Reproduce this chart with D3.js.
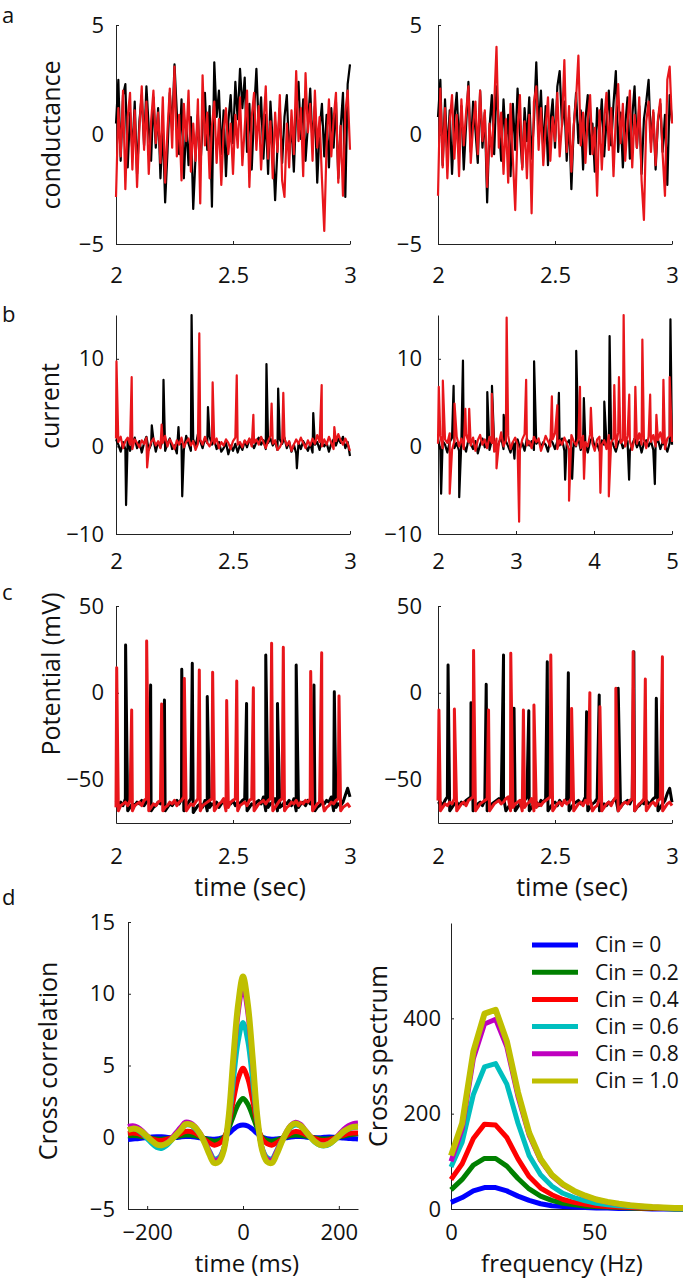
<!DOCTYPE html>
<html>
<head>
<meta charset="utf-8">
<script src="https://cdn.jsdelivr.net/npm/d3@7"></script>
<style>
  body { margin: 0; background: #fff; }
</style>
</head>
<body>
<script>
'use strict';

// ---- panel a: conductance, sampled every 10 ms from 2 to 3 s
const condBlackL = [0.5,2.5,-1.2,1.8,2.3,-1.5,1.0,-0.8,1.5,-1.8,
  0.6,1.8,-0.5,2.2,0.3,-1.2,1.7,-0.6,1.2,-2.0,
  0.4,-3.1,-0.8,1.9,0.2,3.2,1.0,-0.9,1.6,-2.0,
  0.5,-1.4,0.8,-3.4,-1.0,0.9,-1.6,0.4,1.9,-0.7,
  1.3,-3.3,3.3,0.8,2.0,-0.9,1.1,-1.9,0.6,1.8,
  -0.4,2.4,0.7,3.0,1.2,2.6,-0.8,1.4,-1.6,1.0,
  3.0,0.3,1.7,-1.1,0.9,-1.8,1.5,-0.4,-3.0,-0.6,
  1.2,-1.3,0.8,1.8,-0.9,0.5,-1.7,1.1,2.4,-0.2,
  1.6,-1.2,0.4,2.1,-0.5,1.3,-2.2,0.2,1.4,-1.0,
  0.9,-1.5,1.2,-0.6,1.5,-2.0,0.3,1.9,-2.85,2.3,
  3.2]
const condRedL = [-2.85,1.2,-1.0,2.0,-2.5,0.8,1.9,-1.6,1.1,-2.4,
  0.3,2.2,-0.7,1.5,-1.8,0.6,2.0,-0.4,1.0,-1.3,
  1.7,-2.2,0.2,2.1,-0.6,3.1,-1.0,0.9,-2.1,1.4,
  -0.3,2.0,-1.7,0.5,-1.2,1.6,-3.15,2.7,-0.5,1.0,
  -2.0,0.4,1.5,-1.3,0.7,-2.3,0.2,1.2,-0.9,0.5,
  -1.8,0.9,-0.6,1.7,-1.4,0.3,2.0,-2.4,0.8,1.9,
  -0.7,1.3,-1.6,0.4,2.2,-1.1,0.6,-2.0,1.0,-0.8,
  1.8,-2.1,-2.85,0.5,-1.5,1.1,-0.9,2.9,-0.3,1.2,
  -1.9,2.8,0.1,1.4,-1.2,2.0,-0.6,0.8,-2.0,-4.4,
  -0.5,1.6,-1.0,0.7,1.9,-2.2,0.4,-2.8,1.0,2.0,
  -0.7]
const condBlackR = [0.8,2.5,-1.4,1.6,-0.9,1.1,-1.8,0.7,1.9,-0.5,
  1.3,-1.6,0.4,2.4,-0.8,1.5,0.2,-1.3,2.0,-0.6,
  1.0,-3.1,0.3,1.8,-0.9,2.2,0.5,-1.2,1.6,-0.4,
  0.9,-1.9,1.4,-0.7,2.1,0.1,-1.5,1.2,-0.3,1.7,
  -1.1,0.6,3.3,0.2,2.0,-0.8,1.3,-1.4,0.5,1.6,
  -0.6,2.2,2.9,0.4,1.5,-1.2,0.8,-2.5,0.3,1.9,
  -0.4,1.1,-1.6,0.7,1.8,-0.9,0.5,-1.7,1.2,0.0,
  1.6,-1.0,0.6,2.0,-0.5,1.4,2.9,-0.8,1.0,-1.5,
  0.4,1.7,-1.1,0.8,2.2,-0.6,1.3,-1.8,0.7,1.5,
  2.5,-0.4,1.0,-1.6,0.6,1.4,-0.8,0.9,-2.3,1.8,
  0.6]
const condRedR = [-2.8,2.1,-1.5,1.2,-2.0,0.6,1.8,-1.1,0.9,-1.9,
  1.6,-0.5,1.0,2.2,-1.3,0.4,1.5,-0.9,2.0,-0.3,
  1.1,-2.4,0.5,-1.0,1.3,4.0,-0.6,1.0,-1.8,0.7,
  -2.2,1.4,-1.1,-3.45,0.2,1.8,-1.6,0.6,-2.0,0.9,
  -3.6,1.5,2.2,-0.7,1.2,-1.4,0.3,1.7,-1.2,0.8,
  -0.3,1.9,-1.0,0.5,3.4,-0.8,1.3,-1.7,0.4,1.6,
  3.6,-0.5,1.0,-1.3,0.7,1.8,-0.9,0.3,-2.8,1.1,
  -1.6,0.6,1.9,-0.7,1.2,-1.9,0.8,2.3,-0.4,1.4,
  -1.2,0.5,2.0,-1.5,0.9,-0.6,1.7,-2.1,-3.9,0.6,
  1.5,-0.8,1.1,-1.4,0.7,1.6,-0.9,-2.8,2.5,3.1,
  0.5]

// ---- panel b: current, baseline (10 ms left, 30 ms right) + spikes [time, value]
const curBaseBlackL = [0.8,0.2,-0.6,0.5,-0.3,0.9,-0.5,0.3,1.0,-0.2,
  0.6,-0.7,0.4,1.1,-0.4,0.2,0.8,-0.6,0.5,-0.1,
  0.7,-0.5,0.3,0.9,-0.3,0.1,-0.8,0.6,0.2,-0.4,
  1.2,0.3,-0.5,0.8,0.0,1.4,0.6,-0.2,0.9,0.4,
  1.1,0.2,0.7,-0.3,0.5,-0.6,-0.2,0.4,-0.9,0.1,
  -0.5,0.3,-0.7,0.2,-0.4,0.6,-0.1,0.8,0.3,-0.2,
  0.5,1.0,0.2,0.7,-0.3,0.4,0.9,0.1,0.6,-0.4,
  0.8,0.3,1.0,-0.2,0.5,-0.6,0.2,-0.8,0.4,-0.3,
  0.6,0.1,-0.5,0.3,-0.7,0.2,0.5,-0.4,0.7,0.0,
  0.4,-0.6,0.3,0.8,0.1,0.9,0.4,1.1,-0.2,0.5,
  -1.1]
const curBaseRedL = [0.9,0.5,1.1,-0.2,0.6,1.0,0.2,-0.3,0.8,0.4,
  -0.1,0.7,0.3,1.0,-0.4,0.5,0.9,0.1,0.6,-0.2,
  0.4,1.2,0.0,0.8,0.3,-0.3,0.7,0.2,1.0,-0.1,
  0.5,0.9,0.1,0.6,-0.4,0.3,0.8,0.2,1.1,0.4,
  0.0,0.7,0.3,0.9,-0.2,0.5,0.1,0.8,0.4,-0.3,
  0.6,1.0,0.2,0.5,-0.1,0.7,0.3,0.9,0.0,0.4,
  0.8,0.2,1.1,0.5,-0.2,0.6,1.2,0.3,0.7,-0.4,
  -0.1,0.5,0.9,0.1,0.6,-0.5,0.2,0.8,0.3,1.0,
  0.4,-0.2,0.7,0.1,0.9,0.3,1.3,0.5,0.0,0.8,
  0.2,1.1,0.4,-0.3,0.6,1.4,0.7,0.2,0.9,0.3,
  -0.5]
const curSpikesBlackL = [[2.043,-6.7],[2.153,2.4],[2.203,7.6],[2.267,2.2],[2.283,-5.7],
  [2.323,15],[2.393,4.5],[2.643,9.4],[2.693,6.6],[2.773,-2.5],[2.843,3.8]]
const curSpikesRedL = [[2.002,9.7],[2.067,7.9],[2.133,-2.4],[2.195,2.5],[2.356,12.9],
  [2.413,7.3],[2.516,8.1],[2.587,3.6],[2.665,4.9],[2.715,6.1],[2.879,7.0],[2.933,2.2]]

const curBaseBlackR = [0.9,-0.4,0.6,0.2,-0.7,0.5,1.0,-0.2,0.4,-0.5,
  0.7,0.1,-0.6,0.8,0.3,-0.3,0.6,-0.8,0.2,0.9,
  -0.1,0.5,-0.4,0.7,0.2,-0.6,0.4,1.0,-0.3,0.6,
  0.0,-0.7,0.5,0.3,0.8,-0.2,0.4,-0.5,0.9,0.1,
  0.6,-0.4,0.3,0.7,-0.1,0.5,0.2,-0.6,0.8,0.4,
  -0.3,0.6,0.1,0.9,-0.5,0.3,0.7,-0.2,0.5,0.0,
  0.8,-0.4,0.4,0.2,-0.7,0.6,1.0,-0.1,0.3,-0.5,
  0.7,0.2,0.5,-0.3,0.9,0.1,-0.6,0.4,0.8,-0.2,
  0.3,0.6,-0.5,0.2,0.9,-0.1,0.5,-0.7,0.4,0.7,
  0.0,0.6,-0.4,0.3,0.8,-0.3,0.5,0.1,-0.6,0.4,
  0.2]
const curBaseRedR = [0.3,1.2,-0.2,0.8,0.4,1.5,-0.4,0.6,1.1,0.0,
  0.9,-0.3,1.4,0.5,0.1,1.0,-0.5,0.7,1.3,0.2,
  0.8,-0.2,1.1,0.4,-0.6,0.9,0.3,1.6,0.0,0.7,
  1.2,-0.3,0.5,1.0,0.2,-0.4,0.8,1.4,0.1,0.6,
  -0.2,1.1,0.5,0.9,-0.5,0.3,1.2,0.6,0.0,0.8,
  1.5,-0.3,0.7,0.2,1.0,0.4,-0.4,1.3,0.6,0.1,
  0.9,-0.2,1.2,0.5,0.0,1.4,0.3,-0.5,0.8,1.1,
  0.2,0.7,-0.3,1.3,0.5,0.9,-0.1,1.6,0.4,0.7,
  0.0,1.2,0.6,-0.4,1.0,0.3,1.5,0.2,0.8,-0.2,
  1.1,0.5,1.3,0.0,0.7,1.6,0.4,-0.3,0.9,1.2,
  0.5]
const curSpikesBlackR = [[2.04,-5.4],[2.20,6.9],[2.272,-5.8],[2.32,9.8],[2.632,6.2],
  [2.692,6.9],[2.842,3.6],[2.98,-1.4],[3.232,9.7],[3.55,6.1],[3.63,-3.8],[3.72,-3.7],
  [3.772,10.9],[3.87,5.5],[4.132,5.1],[4.20,12.6],[4.45,-3.8],[4.78,-4.3],[4.98,14.5]]
const curSpikesRedR = [[2.01,6.8],[2.062,7.5],[2.15,-5.4],[2.212,4.9],[2.35,4.3],[2.40,4.3],
  [2.69,6.0],[2.75,-2.5],[2.88,14.7],[3.04,-8.6],[3.13,7.6],[3.46,5.7],[3.53,4.7],
  [3.68,-6.2],[3.82,6.8],[3.872,-3.7],[3.96,4.4],[4.082,-5.3],[4.19,-5.7],[4.26,7.0],
  [4.32,7.9],[4.38,15],[4.452,5.9],[4.53,6.8],[4.62,12.2],[4.72,5.9],[4.80,3.6],
  [4.89,7.6],[4.97,7.9]]

// ---- panel c: membrane potential, baseline every 10 ms + spike peaks [time, mV]
const potBaseBlackL = [-62,-64,-63,-65,-61,-68,-66,-64,-65,-63,
  -64,-62,-65,-63,-61,-68,-66,-65,-63,-64,
  -61,-68,-66,-64,-65,-63,-62,-64,-61,-68,
  -65,-63,-61,-69,-67,-65,-64,-66,-62,-68,
  -66,-64,-65,-63,-66,-64,-62,-65,-63,-64,
  -62,-65,-63,-64,-62,-61,-68,-66,-64,-65,
  -63,-62,-64,-60,-68,-66,-64,-63,-61,-68,
  -66,-65,-63,-64,-62,-65,-61,-68,-66,-64,
  -63,-65,-62,-64,-61,-68,-66,-65,-63,-64,
  -62,-63,-60,-68,-66,-64,-65,-63,-59,-55,
  -60]
const potBaseRedL = [-66,-68,-65,-64,-63,-65,-62,-68,-65,-64,
  -63,-65,-62,-61,-68,-66,-64,-65,-63,-62,
  -68,-66,-65,-63,-64,-62,-65,-63,-62,-60,
  -68,-66,-64,-65,-63,-61,-68,-65,-64,-63,
  -62,-61,-68,-66,-64,-63,-61,-68,-66,-63,
  -62,-61,-68,-65,-64,-63,-65,-62,-61,-68,
  -66,-64,-63,-62,-64,-62,-61,-68,-66,-64,
  -62,-61,-68,-66,-65,-63,-64,-62,-65,-63,
  -64,-62,-63,-61,-68,-66,-64,-63,-61,-68,
  -66,-65,-63,-64,-62,-61,-68,-66,-65,-64,
  -66]
const potSpikesBlackL = [[2.041,27.5],[2.148,4.5],[2.207,-4.1],[2.281,13.5],[2.326,17.0],
  [2.39,-2.2],[2.558,-6.1],[2.64,21.8],[2.69,-6.1],[2.77,16.0],[2.846,4.5],[2.933,0.6]]
const potSpikesRedL = [[2.003,14.5],[2.067,-9.9],[2.131,29.8],[2.195,-6.4],[2.292,8.3],
  [2.356,13.1],[2.413,11.8],[2.473,-4.5],[2.516,6.8],[2.587,2.9],[2.665,28.5],
  [2.715,26.2],[2.832,12.2],[2.879,23.1],[2.953,-1.9]]

const potBaseBlackR = [-64,-63,-65,-62,-60,-68,-66,-64,-63,-65,
  -63,-64,-62,-61,-60,-68,-66,-64,-63,-65,
  -62,-68,-66,-64,-63,-62,-61,-63,-60,-68,
  -66,-64,-61,-68,-66,-64,-63,-62,-60,-68,
  -66,-64,-63,-65,-62,-63,-61,-68,-66,-64,
  -63,-65,-62,-64,-63,-61,-68,-66,-64,-63,
  -62,-64,-63,-60,-68,-66,-64,-63,-61,-68,
  -66,-64,-65,-63,-64,-62,-61,-68,-66,-64,
  -63,-62,-64,-61,-68,-66,-65,-63,-64,-62,
  -64,-63,-61,-60,-68,-66,-64,-62,-58,-55,
  -63]
const potBaseRedR = [-62,-68,-66,-64,-65,-63,-64,-61,-68,-66,
  -64,-63,-65,-62,-61,-60,-68,-66,-64,-63,
  -62,-61,-68,-66,-64,-63,-62,-64,-63,-61,
  -60,-68,-66,-64,-63,-62,-68,-66,-64,-63,
  -61,-68,-66,-64,-65,-63,-62,-61,-60,-68,
  -66,-64,-63,-65,-62,-64,-63,-61,-68,-66,
  -64,-63,-65,-62,-64,-61,-68,-66,-65,-61,
  -68,-66,-64,-63,-65,-62,-60,-68,-66,-64,
  -63,-64,-62,-61,-68,-66,-64,-63,-61,-68,
  -66,-64,-63,-65,-62,-61,-68,-66,-64,-63,
  -65]
const potSpikesBlackR = [[2.043,16],[2.141,-5.7],[2.206,4.9],[2.28,21.8],[2.325,-8.9],
  [2.388,-10.3],[2.467,17.9],[2.557,11.6],[2.635,-10.9],[2.689,-1.3],[2.77,2.6],
  [2.837,23.7],[2.933,-3.2]]
const potSpikesRedR = [[2.004,-9.9],[2.07,-9.3],[2.152,24.3],[2.216,-9.9],[2.311,22.8],
  [2.365,-9.9],[2.41,-7.0],[2.482,21.8],[2.571,-9.0],[2.649,0.1],[2.692,-8.0],
  [2.76,2.6],[2.834,23.7],[2.886,8.0],[2.959,20.8]]

// ---- panel d
const cinLabels = ['Cin = 0', 'Cin = 0.2', 'Cin = 0.4', 'Cin = 0.6', 'Cin = 0.8', 'Cin = 1.0']
const cinColors = ['#0000ff', '#008000', '#ff0000', '#00bfbf', '#bf00bf', '#bfbf00']

const lagMs = d3.range(-240, 241, 10)
const xcorr = [
  [-0.15,-0.12,-0.1,-0.06,-0.02,0.02,0.04,0.03,0.0,-0.03,-0.02,0.02,0.05,0.05,0.02,-0.03,-0.08,-0.12,-0.14,-0.1,0.0,0.25,0.55,0.78,0.85,0.78,0.55,0.25,0.0,-0.1,-0.14,-0.12,-0.08,-0.03,0.02,0.05,0.05,0.02,-0.02,-0.04,-0.03,0.0,0.02,0.0,-0.03,-0.06,-0.08,-0.1,-0.12],
  [0.1,0.12,0.1,0.05,0.0,-0.08,-0.12,-0.14,-0.1,-0.04,0.03,0.1,0.15,0.15,0.1,0.03,-0.08,-0.2,-0.28,-0.22,0.0,0.6,1.5,2.3,2.7,2.3,1.5,0.6,0.0,-0.22,-0.28,-0.2,-0.08,0.03,0.12,0.15,0.13,0.08,0.02,-0.05,-0.1,-0.12,-0.1,-0.05,0.02,0.08,0.15,0.2,0.25],
  [0.25,0.3,0.25,0.12,0.0,-0.12,-0.2,-0.22,-0.15,-0.05,0.1,0.25,0.4,0.4,0.3,0.1,-0.15,-0.4,-0.55,-0.45,-0.1,0.9,2.6,4.1,4.8,4.1,2.6,0.9,-0.1,-0.45,-0.55,-0.4,-0.15,0.1,0.3,0.4,0.35,0.2,0.05,-0.1,-0.2,-0.22,-0.18,-0.08,0.05,0.15,0.25,0.3,0.3],
  [0.55,0.6,0.5,0.25,-0.1,-0.45,-0.72,-0.78,-0.6,-0.25,0.15,0.55,0.85,0.85,0.6,0.2,-0.35,-0.95,-1.5,-1.4,-0.75,1.0,4.0,6.7,8.0,6.7,4.0,1.0,-0.75,-1.4,-1.5,-0.95,-0.3,0.25,0.7,0.85,0.75,0.4,0.0,-0.35,-0.55,-0.6,-0.5,-0.25,0.05,0.35,0.55,0.68,0.7],
  [0.75,0.8,0.7,0.45,0.1,-0.25,-0.5,-0.55,-0.4,-0.1,0.3,0.7,1.05,1.0,0.75,0.3,-0.3,-1.0,-1.6,-1.5,-0.8,1.3,5.2,8.7,10.5,8.7,5.2,1.3,-0.8,-1.5,-1.6,-1.0,-0.3,0.35,0.85,1.05,0.9,0.5,0.1,-0.25,-0.48,-0.52,-0.4,-0.15,0.2,0.55,0.8,0.95,1.0],
  [0.5,0.6,0.55,0.35,0.05,-0.25,-0.5,-0.56,-0.45,-0.2,0.15,0.5,0.9,0.9,0.7,0.25,-0.4,-1.2,-1.8,-1.7,-0.9,1.4,5.6,9.3,11.2,9.3,5.6,1.4,-0.9,-1.7,-1.8,-1.2,-0.4,0.3,0.8,0.95,0.8,0.45,0.05,-0.3,-0.52,-0.56,-0.45,-0.2,0.1,0.4,0.6,0.72,0.75]
]

const freqHz = [0,3.9,7.8,11.7,15.6,19.5,23.4,27.3,31.3,35.2,39.1,43.0,46.9,50.8,54.7,58.6,62.5,66.4,70.3,74.2,78.1,82.0]
const xspec = [
  [14,24,38,45,45,38,27,18,11,7,5,4,3,2,2,1,1,1,0,0,0,0],
  [40,62,92,106,106,90,64,42,27,18,12,9,6,5,4,3,2,1,1,1,0,0],
  [62,95,148,178,176,150,105,68,44,30,20,14,10,7,5,4,3,2,2,1,1,1],
  [88,140,240,298,305,262,180,112,72,48,33,24,17,12,9,7,5,4,3,2,1,1],
  [100,168,315,388,398,340,236,155,102,70,50,37,27,20,14,10,8,6,4,3,2,2],
  [112,180,330,410,418,352,245,160,105,72,52,38,28,20,15,11,8,6,4,3,2,2]
]

const tLeft = d3.range(101).map(i => 2 + i / 100)
const tRight5 = d3.range(101).map(i => 2 + i * 0.03)

const FONT = "'Open Sans', 'Noto Sans', sans-serif"
const BLACK = '#000'
const RED = '#e8161b'
const LABEL_SIZE = 25

const svg = d3.select('body')
  .append('svg')
  .attr('width', 683)
  .attr('height', 1280)
  .style('background', '#fff')

const defs = svg.append('defs')

function styleAxis(g) {
  g.attr('font-family', FONT).attr('font-size', 22)
  g.select('.domain').attr('stroke', '#222')
  g.selectAll('.tick line').attr('stroke', '#222')
  g.selectAll('.tick text').attr('fill', '#111')
}

function makePanel(box, xDom, yDom, xTicks, yTicks, padX, padY) {
  let x = d3.scaleLinear().domain(xDom).range([box.x0, box.x1])
  let y = d3.scaleLinear().domain(yDom).range([box.y1, box.y0])
  let fmt = d3.format('')

  svg.append('g')
    .attr('transform', 'translate(0,' + box.y1 + ')')
    .call(d3.axisBottom(x).tickValues(xTicks).tickFormat(fmt)
      .tickSizeInner(-3).tickSizeOuter(0).tickPadding(padX))
    .call(styleAxis)

  svg.append('g')
    .attr('transform', 'translate(' + box.x0 + ',0)')
    .call(d3.axisLeft(y).tickValues(yTicks).tickFormat(fmt)
      .tickSizeInner(-3).tickSizeOuter(0).tickPadding(padY))
    .call(styleAxis)

  let id = 'clip' + Math.round(box.x0) + '_' + Math.round(box.y0)
  defs.append('clipPath').attr('id', id)
    .append('rect')
    .attr('x', box.x0 - 4).attr('y', box.y0 - 6)
    .attr('width', box.x1 - box.x0 + 8).attr('height', box.y1 - box.y0 + 10)

  return { x: x, y: y, clip: id }
}

function drawTrace(p, pts, color, width, curve) {
  let line = d3.line()
    .x(d => p.x(d[0]))
    .y(d => p.y(d[1]))
    .curve(curve || d3.curveLinear)
  svg.append('path')
    .datum(pts)
    .attr('clip-path', 'url(#' + p.clip + ')')
    .attr('d', line)
    .attr('fill', 'none')
    .attr('stroke', color)
    .attr('stroke-width', width)
    .attr('stroke-linejoin', 'round')
}

function zipTrace(times, vals) {
  return times.map((t, i) => [t, vals[i]])
}

function withSpikes(times, base, spikes) {
  let pts = zipTrace(times, base).concat(spikes)
  pts.sort((a, b) => a[0] - b[0])
  return pts
}

function yLabel(text, x, y) {
  svg.append('text')
    .attr('transform', 'translate(' + x + ',' + y + ') rotate(-90)')
    .attr('text-anchor', 'middle')
    .attr('dy', '0.35em')
    .attr('font-family', FONT)
    .attr('font-size', LABEL_SIZE)
    .attr('fill', '#111')
    .text(text)
}

function xLabel(text, x, y, size) {
  svg.append('text')
    .attr('x', x).attr('y', y)
    .attr('text-anchor', 'middle')
    .attr('dy', '0.35em')
    .attr('font-family', FONT)
    .attr('font-size', size || LABEL_SIZE)
    .attr('fill', '#111')
    .text(text)
}

function panelLetter(text, x, y) {
  svg.append('text')
    .attr('x', x).attr('y', y)
    .attr('font-family', FONT)
    .attr('font-size', 22)
    .attr('fill', '#111')
    .text(text)
}

// ---- a
let aL = makePanel({x0: 116, x1: 350, y0: 25, y1: 244}, [2, 3], [-5, 5], [2, 2.5, 3], [-5, 0, 5], 23, 12)
drawTrace(aL, zipTrace(tLeft, condBlackL), BLACK, 2.2)
drawTrace(aL, zipTrace(tLeft, condRedL), RED, 2.2)

let aR = makePanel({x0: 438, x1: 672, y0: 25, y1: 244}, [2, 3], [-5, 5], [2, 2.5, 3], [-5, 0, 5], 23, 16)
drawTrace(aR, zipTrace(tLeft, condBlackR), BLACK, 2.2)
drawTrace(aR, zipTrace(tLeft, condRedR), RED, 2.2)

// ---- b
let bL = makePanel({x0: 116, x1: 350, y0: 315, y1: 534}, [2, 3], [-10, 15], [2, 2.5, 3], [-10, 0, 10], 19, 12)
drawTrace(bL, withSpikes(tLeft, curBaseBlackL, curSpikesBlackL), BLACK, 2.2)
drawTrace(bL, withSpikes(tLeft, curBaseRedL, curSpikesRedL), RED, 2.2)

let bR = makePanel({x0: 438, x1: 672, y0: 315, y1: 534}, [2, 5], [-10, 15], [2, 3, 4, 5], [-10, 0, 10], 19, 16)
drawTrace(bR, withSpikes(tRight5, curBaseBlackR, curSpikesBlackR), BLACK, 2.2)
drawTrace(bR, withSpikes(tRight5, curBaseRedR, curSpikesRedR), RED, 2.2)

// ---- c
let cL = makePanel({x0: 116, x1: 350, y0: 606, y1: 823}, [2, 3], [-75, 50], [2, 2.5, 3], [-50, 0, 50], 25, 12)
drawTrace(cL, withSpikes(tLeft, potBaseBlackL, potSpikesBlackL), BLACK, 3)
drawTrace(cL, withSpikes(tLeft, potBaseRedL, potSpikesRedL), RED, 3)

let cR = makePanel({x0: 438, x1: 672, y0: 606, y1: 823}, [2, 3], [-75, 50], [2, 2.5, 3], [-50, 0, 50], 25, 16)
drawTrace(cR, withSpikes(tLeft, potBaseBlackR, potSpikesBlackR), BLACK, 3)
drawTrace(cR, withSpikes(tLeft, potBaseRedR, potSpikesRedR), RED, 3)

// ---- d
let dL = makePanel({x0: 128, x1: 358, y0: 922, y1: 1209}, [-240, 240], [-5, 15], [-200, 0, 200], [-5, 0, 5, 10, 15], 15, 13)
xcorr.forEach((vals, i) => {
  drawTrace(dL, zipTrace(lagMs, vals), cinColors[i], i === 5 ? 6 : 5, d3.curveCatmullRom)
})

let dR = makePanel({x0: 451, x1: 680, y0: 923, y1: 1209}, [0, 80], [0, 600], [0, 50], [0, 200, 400], 15, 10)
xspec.forEach((vals, i) => {
  drawTrace(dR, zipTrace(freqHz, vals), cinColors[i], i === 5 ? 6 : 5)
})

let legend = svg.selectAll('.legend')
  .data(cinLabels)
  .enter().append('g')
  .attr('class', 'legend')
  .attr('transform', (d, i) => 'translate(0,' + (945 + i * 27.2) + ')')

legend.append('line')
  .attr('x1', 532).attr('x2', 578)
  .attr('y1', 0).attr('y2', 0)
  .attr('stroke', (d, i) => cinColors[i])
  .attr('stroke-width', 5)

legend.append('text')
  .attr('x', 595)
  .attr('dy', '0.35em')
  .attr('font-family', FONT)
  .attr('font-size', 21)
  .attr('fill', '#111')
  .text(d => d)

// ---- labels
panelLetter('a', 2, 23)
panelLetter('b', 2, 322)
panelLetter('c', 2, 600)
panelLetter('d', 2, 905)

yLabel('conductance', 51, 135)
yLabel('current', 50, 406)
yLabel('Potential (mV)', 51, 674)
yLabel('Cross correlation', 48, 1061)
yLabel('Cross spectrum', 378, 1056)

xLabel('time (sec)', 250, 887)
xLabel('time (sec)', 572, 887)
xLabel('time (ms)', 247, 1264, 24)
xLabel('frequency (Hz)', 562, 1264, 24)
</script>
</body>
</html>
